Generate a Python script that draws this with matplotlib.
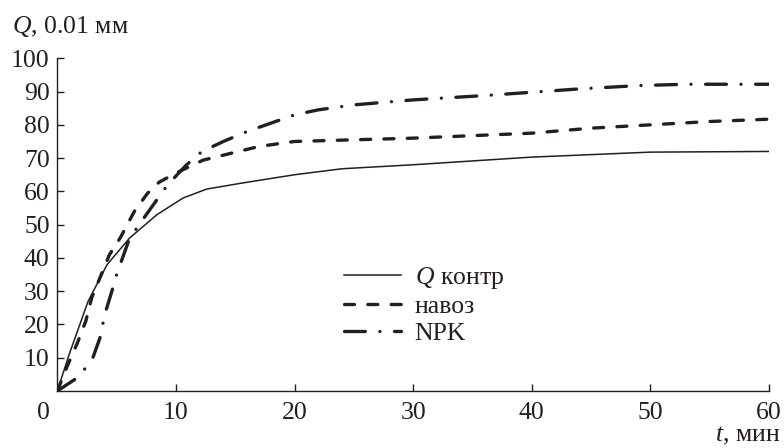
import matplotlib
matplotlib.use("Agg")
import matplotlib.pyplot as plt

plt.rcParams["font.family"] = ["Liberation Serif", "DejaVu Serif"]
plt.rcParams["mathtext.fontset"] = "custom"
plt.rcParams["mathtext.rm"] = "Liberation Serif"
plt.rcParams["mathtext.it"] = "Liberation Serif:italic"
plt.rcParams["lines.scale_dashes"] = False

INK = "#231f20"
FS = 18.5

# Q, 0.01 mm vs t, min
t_ctrl = [0, 1, 2, 2.6, 4.2, 6.1, 8.4, 10.6, 12.6, 15.4, 20, 24, 30, 40, 50, 60]
q_ctrl = [0, 11, 21, 27, 38, 46, 53, 58, 60.7, 62.4, 65, 66.8, 68, 70.3, 71.8, 72]

t_manure = [0, 0.9, 1.7, 2.4, 2.9, 4.4, 5.3, 6.5, 7.6, 8.6, 10, 12.3, 14.7, 17,
            20, 25, 30, 40, 45, 50, 55, 60]
q_manure = [0, 8, 14.5, 21, 28, 41, 46, 54, 59.4, 62.8, 65.5, 69.4, 71.5, 73.5,
            75, 75.5, 76, 77.5, 79, 80, 81, 81.7]

t_npk = [0, 1.7, 2.4, 3.0, 3.6, 4.0, 4.6, 5.0, 5.4, 6.0, 6.7, 7.5, 8.5, 9.2,
         10.1, 10.9, 12.2, 14, 16, 18, 20, 22, 25, 30, 36, 44, 49, 53, 60]
q_npk = [0, 4, 7, 10, 16, 23, 30, 35, 39, 45, 49, 53, 58, 61.5, 65, 68, 72, 75,
         78, 80.5, 83, 84.5, 86, 87.5, 88.8, 90.8, 91.8, 92.2, 92.2]

labels = ["$Q$ контр", "навоз", "NPK"]
x_ticks = [10, 20, 30, 40, 50, 60]
y_ticks = [10, 20, 30, 40, 50, 60, 70, 80, 90, 100]

W, H = 784, 448
fig = plt.figure(figsize=(W / 100, H / 100), dpi=100)
ax = fig.add_axes([57.3 / W, 1 - 391 / H, (769 - 57.3) / W, (391 - 58.3) / H])

ax.plot(t_ctrl, q_ctrl, color=INK, lw=1.1, label=labels[0])
ax.plot(t_manure, q_manure, color=INK, lw=2.4, dashes=(7.2, 9.6),
        dash_capstyle="round", label=labels[1])
ax.plot(t_npk, q_npk, color=INK, lw=2.4, dashes=(15, 10.5, 0.01, 10.5),
        dash_capstyle="round", label=labels[2])

ax.set_xlim(0, 60)
ax.set_ylim(0, 100)
ax.set_xticks(x_ticks)
ax.set_yticks(y_ticks)
for s in ["top", "right"]:
    ax.spines[s].set_visible(False)
for s in ["left", "bottom"]:
    ax.spines[s].set_linewidth(1.0)
    ax.spines[s].set_color(INK)
ax.tick_params(direction="in", length=5, width=1.0, color=INK,
               labelsize=FS, labelcolor=INK)
ax.tick_params(axis="x", pad=8)
ax.tick_params(axis="y", pad=5.5)

# corner zero shared by both axes
ax.annotate("0", xy=(0, 0), xycoords="data", xytext=(-10, -8),
            textcoords="offset points", ha="center", va="top",
            fontsize=FS, color=INK)

fig.text(12 / W, 1 - 33 / H, "$Q$, 0.01 мм", fontsize=FS, color=INK,
         ha="left", va="baseline")
fig.text(780 / W, 1 / H, "$t$, мин", fontsize=FS, color=INK,
         ha="right", va="bottom")

leg = ax.legend(loc="upper left", bbox_to_anchor=(344 / W, 1 - 265 / H),
                bbox_transform=fig.transFigure, frameon=False, fontsize=FS,
                handlelength=2.2, handletextpad=0.55, labelspacing=0.15,
                borderpad=0, borderaxespad=0)
for txt in leg.get_texts():
    txt.set_color(INK)

fig.savefig("out.png", dpi=100)
